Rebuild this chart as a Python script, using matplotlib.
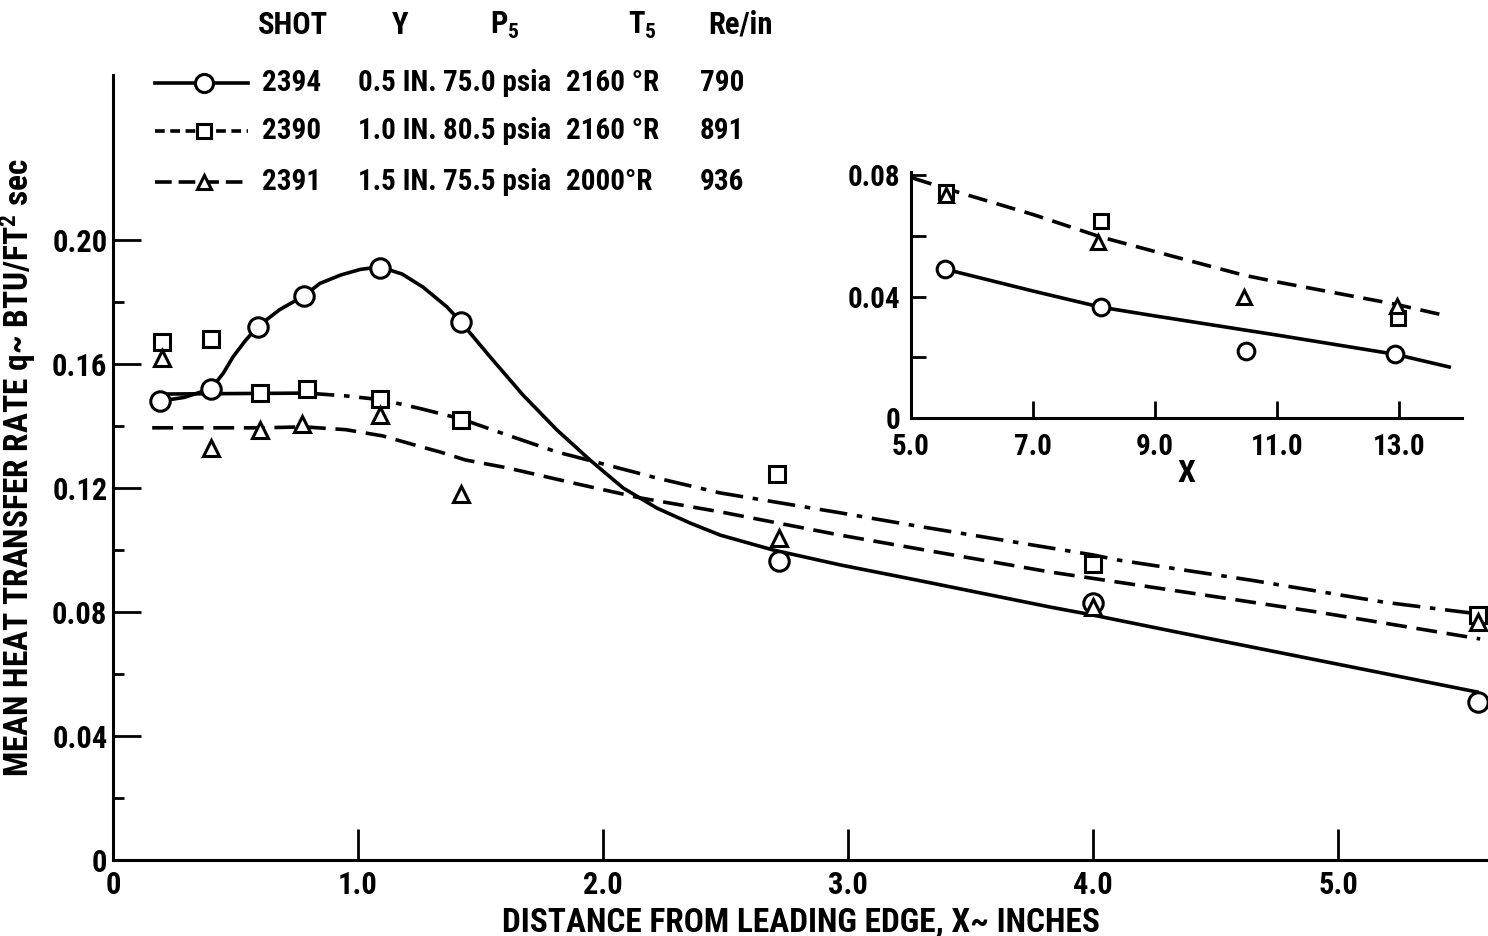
"""Mean heat transfer rate vs distance from leading edge, shots 2394/2390/2391."""

import matplotlib
matplotlib.use('Agg')
import matplotlib.pyplot as plt
from matplotlib import font_manager
from matplotlib.lines import Line2D

# measured points, main plot (x in inches, q in BTU/ft^2 sec)
x_2394 = [0.19, 0.40, 0.59, 0.78, 1.09, 1.42, 2.72, 4.00, 5.57]
q_2394 = [0.148, 0.152, 0.172, 0.182, 0.191, 0.1735, 0.0965, 0.083, 0.051]
x_2390 = [0.20, 0.40, 0.60, 0.79, 1.09, 1.42, 2.71, 4.00, 5.57]
q_2390 = [0.167, 0.168, 0.1505, 0.152, 0.1487, 0.142, 0.1245, 0.0955, 0.079]
x_2391 = [0.20, 0.40, 0.60, 0.77, 1.09, 1.42, 2.72, 4.00, 5.57]
q_2391 = [0.162, 0.133, 0.1387, 0.1406, 0.1435, 0.118, 0.104, 0.0815, 0.0768]

# faired curves, main plot
fit_x_2394 = [0.19, 0.29, 0.40, 0.45, 0.49, 0.54, 0.59, 0.68, 0.78, 0.845, 0.93,
              1.01, 1.09, 1.18, 1.265, 1.363, 1.42, 1.539, 1.673, 1.812, 1.947,
              2.082, 2.22, 2.355, 2.478, 2.694, 2.967, 3.28, 3.824, 4.0, 4.343,
              4.914, 5.567]
fit_q_2394 = [0.148, 0.1492, 0.152, 0.157, 0.1623, 0.1675, 0.172, 0.1775, 0.182,
              0.186, 0.1887, 0.1905, 0.1913, 0.189, 0.1848, 0.1784, 0.1735, 0.1623,
              0.150, 0.1387, 0.129, 0.120, 0.1135, 0.1087, 0.1048, 0.100, 0.0952,
              0.0903, 0.0816, 0.079, 0.0735, 0.0645, 0.0542]
flat_x_2390 = [0.22, 0.40, 0.60, 0.79]
flat_q_2390 = [0.1503, 0.1504, 0.1505, 0.1506]
fit_x_2390 = [0.79, 0.95, 1.10, 1.26, 1.42, 1.608, 1.812, 1.988, 2.22, 2.478,
              2.967, 3.26, 4.0, 4.098, 4.641, 5.184, 5.539]
fit_q_2390 = [0.1506, 0.1497, 0.1484, 0.1455, 0.1423, 0.1371, 0.1316, 0.128,
              0.1232, 0.1184, 0.112, 0.108, 0.0984, 0.0968, 0.0903, 0.0832, 0.0797]
fit_x_2391 = [0.16, 0.40, 0.60, 0.78, 0.95, 1.10, 1.27, 1.335, 1.44, 1.608,
              1.878, 2.151, 2.478, 2.967, 3.824, 4.367, 4.914, 5.58]
fit_q_2391 = [0.1394, 0.1394, 0.1394, 0.1397, 0.1388, 0.1368, 0.133, 0.1316,
              0.129, 0.1265, 0.1216, 0.1168, 0.1123, 0.1048, 0.0929, 0.0865,
              0.080, 0.0713]

# inset (X from 5 to 14 in)
ix_2394 = [5.56, 8.11, 10.49, 12.93]
iq_2394 = [0.049, 0.0365, 0.022, 0.021]
ix_2390 = [5.58, 8.11, 12.98]
iq_2390 = [0.0744, 0.0649, 0.033]
ix_2391 = [5.58, 8.07, 10.46, 12.97]
iq_2391 = [0.0735, 0.058, 0.040, 0.037]
ifit_x_solid = [5.56, 7.0, 8.11, 9.0, 10.46, 11.0, 12.93, 13.82]
ifit_q_solid = [0.049, 0.0418, 0.0365, 0.0336, 0.029, 0.0273, 0.021, 0.0168]
ifit_x_dash = [5.03, 5.58, 7.0, 8.11, 9.0, 10.46, 11.0, 12.93, 13.72]
ifit_q_dash = [0.079, 0.0755, 0.067, 0.0596, 0.0548, 0.047, 0.0448, 0.0375, 0.0339]

# legend table
shots = ['2394', '2390', '2391']
heights = ['0.5 IN.', '1.0 IN.', '1.5 IN.']
p5 = ['75.0 psia', '80.5 psia', '75.5 psia']
t5 = ['2160 °R', '2160 °R', '2000°R']
re_in = ['790', '891', '936']

W, H = 1488, 936

available = {f.name for f in font_manager.fontManager.ttflist}
font = next((n for n in ['Liberation Sans Narrow', 'DejaVu Sans Condensed',
                         'Roboto Condensed'] if n in available), 'DejaVu Sans')
plt.rcParams['font.family'] = [font, 'DejaVu Sans']
plt.rcParams['font.weight'] = 'bold'
plt.rcParams['axes.labelweight'] = 'bold'
plt.rcParams['mathtext.fontset'] = 'custom'
for k in ['rm', 'it', 'bf', 'sf']:
    plt.rcParams['mathtext.' + k] = font + ':bold'
plt.rcParams['lines.scale_dashes'] = False


def fpos(px, py):
    return px / W, 1 - py / H


fig = plt.figure(figsize=(W / 100, H / 100), dpi=100)
ax = fig.add_axes([113 / W, 76 / H, 1375 / W, 785 / H])

lw = 2.6
mk = dict(mfc='white', mec='black', mew=2.2, ls='none', zorder=3)
ax.plot(fit_x_2394, fit_q_2394, color='black', lw=lw, solid_joinstyle='round')
ax.plot(flat_x_2390, flat_q_2390, color='black', lw=lw)
ax.plot(fit_x_2390, fit_q_2390, color='black', lw=lw, dashes=(20, 7, 4, 7))
ax.plot(fit_x_2391, fit_q_2391, color='black', lw=lw, dashes=(15, 7))
ax.plot(x_2394, q_2394, marker='o', ms=14, **mk)
ax.plot(x_2390, q_2390, marker='s', ms=11, **mk)
ax.plot(x_2391, q_2391, marker='^', ms=11, **mk)

ax.set_xlim(0, 5.612)
ax.set_ylim(0, 0.2532)
ax.spines['top'].set_visible(False)
ax.spines['right'].set_visible(False)
for s in ['left', 'bottom']:
    ax.spines[s].set_linewidth(2.2)
ax.set_xticks([0, 1, 2, 3, 4, 5])
ax.set_xticklabels(['0', '1.0', '2.0', '3.0', '4.0', '5.0'])
ax.set_yticks([0, 0.04, 0.08, 0.12, 0.16, 0.20])
ax.set_yticklabels(['0', '0.04', '0.08', '0.12', '0.16', '0.20'])
ax.set_yticks([0.02, 0.06, 0.10, 0.14, 0.18], minor=True)
ax.tick_params(axis='x', direction='in', length=22, width=2, labelsize=22, pad=7)
ax.tick_params(axis='y', direction='in', length=20, width=2, labelsize=22, pad=4)
ax.tick_params(axis='y', which='minor', direction='in', length=8, width=2)
ax.set_xlabel('DISTANCE FROM LEADING EDGE, X~ INCHES', fontsize=24, labelpad=5)
ax.set_ylabel('MEAN HEAT TRANSFER RATE q~ BTU/FT$^2$ sec', fontsize=24, labelpad=10)

# inset
ins = fig.add_axes([911 / W, (H - 418) / H, 551 / W, 246 / H])
ins.plot(ifit_x_solid, ifit_q_solid, color='black', lw=lw)
ins.plot(ifit_x_dash, ifit_q_dash, color='black', lw=lw, dashes=(14, 7))
ins.plot(ix_2394, iq_2394, marker='o', ms=12, **mk)
ins.plot(ix_2390, iq_2390, marker='s', ms=10, **mk)
ins.plot(ix_2391, iq_2391, marker='^', ms=10, **mk)
ins.set_xlim(5.0, 14.03)
ins.set_ylim(0, 0.081)
ins.spines['top'].set_visible(False)
ins.spines['right'].set_visible(False)
for s in ['left', 'bottom']:
    ins.spines[s].set_linewidth(2.2)
ins.set_xticks([5, 7, 9, 11, 13])
ins.set_xticklabels(['5.0', '7.0', '9.0', '11.0', '13.0'])
ins.set_yticks([0, 0.04, 0.08])
ins.set_yticklabels(['0', '0.04', '0.08'])
ins.set_yticks([0.02, 0.06], minor=True)
ins.tick_params(axis='x', direction='in', length=12, width=2, labelsize=21, pad=11)
ins.tick_params(axis='y', which='both', direction='in', length=11, width=2,
                labelsize=21, pad=8)
ins.set_xlabel('X', fontsize=23, labelpad=-2)

# legend table
fs = 21
heads = [('SHOT', 293), ('Y', 400), ('P$_5$', 505), ('T$_5$', 642), ('Re/in', 740)]
for label, cx in heads:
    fig.text(*fpos(cx, 25), label, fontsize=22, ha='center', va='center')

row_y = [83, 131, 182]
cols = [(shots, 262), (heights, 358), (p5, 443), (t5, 566), (re_in, 700)]
for i, yy in enumerate(row_y):
    for vals, lx in cols:
        fig.text(*fpos(lx, yy), vals[i], fontsize=fs, ha='left', va='center')

styles = [dict(ls='-'), dict(dashes=(7, 4)), dict(dashes=(12, 5))]
markers = [('o', 13), ('s', 10), ('^', 10)]
for yy, st, (m, ms) in zip(row_y, styles, markers):
    x0, y0 = fpos(155, yy)
    x1, _ = fpos(248, yy)
    fig.add_artist(Line2D([x0, x1], [y0, y0], color='black', lw=lw,
                          transform=fig.transFigure, **st))
    xm, _ = fpos(204, yy)
    fig.add_artist(Line2D([xm], [y0], marker=m, ms=ms, mfc='white', mec='black',
                          mew=2.2, transform=fig.transFigure))

fig.savefig('out.png', dpi=100)
